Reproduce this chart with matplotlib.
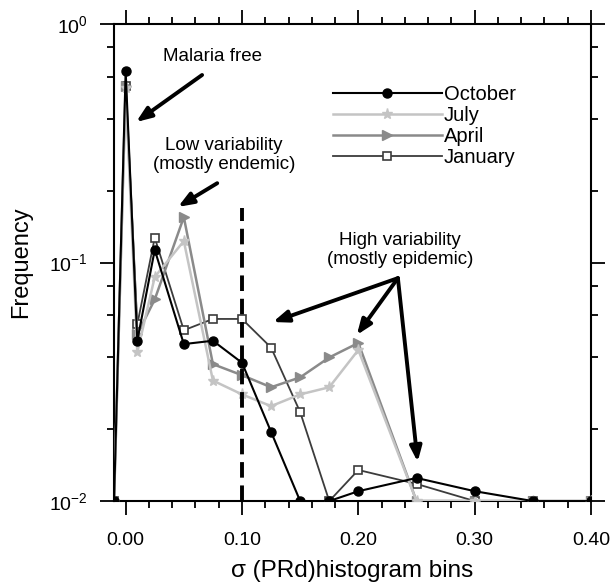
import numpy as np
import matplotlib
matplotlib.use("Agg")
import matplotlib.pyplot as plt
from matplotlib.ticker import MultipleLocator, LogLocator, NullFormatter, FixedLocator

plt.rcParams['font.family'] = ['Liberation Sans', 'DejaVu Sans']
plt.rcParams['mathtext.default'] = 'regular'

# histogram bin positions
bins = [-0.01, 0.0, 0.01, 0.025, 0.05, 0.075, 0.1, 0.125, 0.15, 0.175, 0.2, 0.25, 0.3, 0.35, 0.4]

# frequencies (0.01 = floor of the axis)
october = [0.01, 0.635, 0.047, 0.113, 0.0455, 0.047, 0.038, 0.0195, 0.01, 0.01, 0.011, 0.0125, 0.011, 0.01, 0.01]
july = [0.01, 0.54, 0.042, 0.087, 0.123, 0.032, 0.028, 0.025, 0.028, 0.030, 0.043, 0.01, 0.01, 0.01, 0.01]
april = [0.01, 0.55, 0.05, 0.070, 0.155, 0.0375, 0.0337, 0.030, 0.033, 0.040, 0.046, 0.01, 0.01, 0.01, 0.01]
january = [0.01, 0.55, 0.055, 0.127, 0.052, 0.058, 0.058, 0.044, 0.0236, 0.01, 0.0135, 0.0118, 0.01, 0.01, 0.01]

fig = plt.figure(figsize=(6.15, 5.84), dpi=100)
ax = fig.add_axes([0.1854, 0.142, 0.7756, 0.817])

ax.plot(bins, january, color='#3c3c3c', lw=1.3, marker='s', ms=6, mfc='white', mec='#3c3c3c', mew=1.2, label='January', zorder=3)
ax.plot(bins, april, color='#8a8a8a', lw=1.8, marker='>', ms=7, mfc='#8a8a8a', mec='#8a8a8a', label='April', zorder=4)
ax.plot(bins, july, color='#c4c4c4', lw=1.8, marker='*', ms=8, mfc='#c4c4c4', mec='#c4c4c4', label='July', zorder=4)
ax.plot(bins, october, color='black', lw=1.5, marker='o', ms=6.5, mfc='black', mec='black', label='October', zorder=5)

ax.vlines(0.1, 0.01, 0.17, colors='black', linestyles=(0, (4, 2)), lw=2.8, zorder=6)

ax.set_yscale('log')
ax.set_xlim(-0.01, 0.4)
ax.set_ylim(0.01, 1.0)
ax.xaxis.set_major_locator(FixedLocator([0.0, 0.1, 0.2, 0.3, 0.4]))
ax.xaxis.set_minor_locator(MultipleLocator(0.02))
ax.set_xticklabels(['0.00', '0.10', '0.20', '0.30', '0.40'])
ax.yaxis.set_minor_locator(LogLocator(subs=[2, 4, 6, 8]))
ax.yaxis.set_minor_formatter(NullFormatter())

for s in ax.spines.values():
    s.set_linewidth(1.5)
ax.tick_params(which='both', direction='out', top=True, right=True, width=1.3, labelsize=14)
ax.tick_params(which='major', length=10, pad=12)
ax.tick_params(which='minor', length=5)
ax.tick_params(axis='y', which='major', pad=9)

ax.set_ylabel('Frequency', fontsize=17, labelpad=12)
ax.set_xlabel('σ (PRd)histogram bins', fontsize=17.5, labelpad=8)

handles, labels = ax.get_legend_handles_labels()
order = [3, 2, 1, 0]
leg = ax.legend([handles[i] for i in order], [labels[i] for i in order],
                loc='upper left', bbox_to_anchor=(0.459, 0.872), frameon=False,
                handlelength=5.4, handletextpad=0.1, labelspacing=0.1,
                borderpad=0, borderaxespad=0, fontsize=14.5, numpoints=1)

ann = dict(fontsize=13.5, ha='center', va='center')
arrow = dict(arrowstyle='-|>,head_length=0.9,head_width=0.35', color='black', lw=2.8, shrinkA=0, shrinkB=0)

ax.text(0.075, 0.727, 'Malaria free', **ann)
ax.annotate('', xy=(0.009, 0.388), xytext=(0.0657, 0.611), arrowprops=arrow)

ax.text(0.0845, 0.282, 'Low variability\n(mostly endemic)', linespacing=1.2, **ann)
ax.annotate('', xy=(0.045, 0.171), xytext=(0.0787, 0.215), arrowprops=arrow)

ax.text(0.2356, 0.113, 'High variability\n(mostly epidemic)', linespacing=1.2, **ann)
for hx, hy in [(0.1266, 0.0563), (0.1987, 0.0497), (0.251, 0.0146)]:
    ax.annotate('', xy=(hx, hy), xytext=(0.234, 0.086), arrowprops=arrow)

fig.savefig('out.png', dpi=100)
